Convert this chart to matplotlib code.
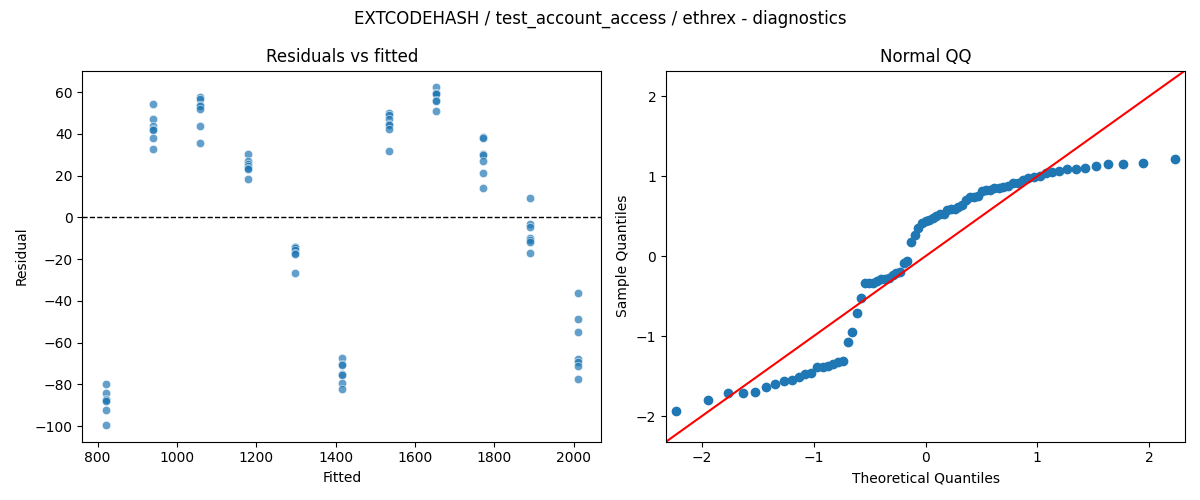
import numpy as np
import matplotlib
matplotlib.use("Agg")
import matplotlib.pyplot as plt
import seaborn as sns
from statistics import NormalDist

# Fitted level of each cluster and residuals observed at that level
fitted_levels = [821, 940, 1059, 1178, 1297, 1416, 1534, 1653, 1772, 1891, 2010]
res_821 = [-79.9, -84.2, -87.0, -87.5, -88.0, -92.2, -99.4]
res_940 = [54.5, 47.4, 43.7, 42.6, 41.8, 38.1, 33.0]
res_1059 = [57.7, 56.8, 54.1, 53.3, 51.8, 43.7, 35.9]
res_1178 = [30.6, 27.1, 25.8, 24.5, 23.5, 23.0, 18.5]
res_1297 = [-14.0, -14.3, -14.6, -15.6, -17.0, -17.3, -26.8]
res_1416 = [-67.5, -70.3, -70.8, -75.0, -75.5, -79.3, -82.0]
res_1534 = [50.2, 48.9, 47.4, 45.0, 44.2, 42.6, 31.7]
res_1653 = [62.3, 59.8, 59.5, 59.2, 56.2, 55.8, 50.8]
res_1772 = [38.8, 38.3, 30.3, 29.8, 27.1, 21.1, 13.9]
res_1891 = [9.1, -3.3, -4.5, -10.0, -10.9, -11.8, -17.2]
res_2010 = [-36.4, -48.8, -55.0, -67.8, -69.1, -71.0, -77.5]

groups = [res_821, res_940, res_1059, res_1178, res_1297, res_1416,
          res_1534, res_1653, res_1772, res_1891, res_2010]

fitted = np.concatenate([[f] * len(g) for f, g in zip(fitted_levels, groups)])
resid = np.concatenate(groups)

fig, (ax1, ax2) = plt.subplots(1, 2, figsize=(12, 5), dpi=100)

# Residuals vs fitted
sns.scatterplot(x=fitted, y=resid, alpha=0.7, ax=ax1)
ax1.axhline(0, color="black", linestyle="--", linewidth=1)
ax1.set_title("Residuals vs fitted")
ax1.set_xlabel("Fitted")
ax1.set_ylabel("Residual")

# Normal QQ
n = len(resid)
sample = np.sort((resid - resid.mean()) / resid.std())
nd = NormalDist()
theo = np.array([nd.inv_cdf(i / (n + 1)) for i in range(1, n + 1)])
ax2.plot(theo, sample, marker="o", linestyle="none",
         markerfacecolor="C0", markeredgecolor="C0")
ax2.set_xmargin(0.02)
xl = ax2.get_xlim()
yl = ax2.get_ylim()
lo = min(xl[0], yl[0])
hi = max(xl[1], yl[1])
ax2.plot([lo, hi], [lo, hi], "r-")
ax2.set_xlim(lo, hi)
ax2.set_ylim(lo, hi)
ax2.set_title("Normal QQ")
ax2.set_xlabel("Theoretical Quantiles")
ax2.set_ylabel("Sample Quantiles")

fig.suptitle("EXTCODEHASH / test_account_access / ethrex - diagnostics")
fig.tight_layout()
fig.savefig("out.png")
